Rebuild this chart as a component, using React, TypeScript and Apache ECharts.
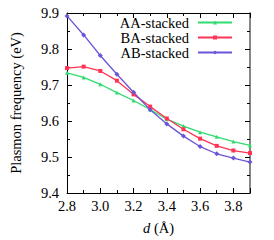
import React, { useEffect, useRef } from "react";
import * as echarts from "echarts";

const dValues = [2.8, 2.9, 3.0, 3.1, 3.2, 3.3, 3.4, 3.5, 3.6, 3.7, 3.8, 3.9];
const aaStacked = [9.734, 9.721, 9.702, 9.679, 9.657, 9.632, 9.605, 9.586, 9.569, 9.556, 9.543, 9.532];
const baStacked = [9.747, 9.751, 9.739, 9.712, 9.674, 9.640, 9.607, 9.577, 9.551, 9.531, 9.518, 9.511];
const abStacked = [9.892, 9.839, 9.782, 9.730, 9.680, 9.631, 9.592, 9.558, 9.529, 9.509, 9.497, 9.486];
const seriesNames = ["AA-stacked", "BA-stacked", "AB-stacked"];
const xLabel = "d";

const FONT = "'Liberation Serif', 'Times New Roman', Times, serif";
const FS = 14.5;

export default function App() {
  const ref = useRef<HTMLDivElement>(null);
  useEffect(() => {
    document.body.style.margin = "0";
    const chart = echarts.init(ref.current!, null, { renderer: "svg" });
    const pair = (ys: number[]) => dValues.map((x, i) => [x, ys[i]]);
    const mk = (name: string, ys: number[], color: string, symbol: string, size: number) => ({
      name,
      type: "line",
      data: pair(ys),
      symbol,
      symbolSize: size,
      showSymbol: true,
      itemStyle: { color },
      lineStyle: { color, width: 1.3 },
      xAxisIndex: 0,
      yAxisIndex: 0,
    });
    const tickStyle = { color: "#000", width: 1 };
    chart.setOption({
      animation: false,
      backgroundColor: "#fff",
      grid: { left: 57, right: 24, top: 13, bottom: 43 },
      legend: {
        orient: "vertical",
        right: 41,
        top: 15,
        padding: 0,
        align: "right",
        itemWidth: 34,
        itemHeight: 5,
        itemGap: 0,
        textStyle: { fontFamily: FONT, fontSize: FS, color: "#000", padding: [0, 4, 0, 0], lineHeight: 13.4 },
        data: seriesNames,
      },
      xAxis: [
        {
          type: "value",
          min: 2.8,
          max: 3.9,
          interval: 0.2,
          name: `{i|${xLabel}} (Å)`,
          nameLocation: "middle",
          nameGap: 27,
          nameTextStyle: {
            fontFamily: FONT,
            fontSize: FS,
            color: "#000",
            rich: { i: { fontStyle: "italic", fontFamily: FONT, fontSize: FS, color: "#000" } },
          },
          axisLine: { show: true, lineStyle: { color: "#000", width: 1 } },
          axisTick: { inside: true, length: 5, lineStyle: tickStyle },
          minorTick: { show: true, splitNumber: 2, length: 3, lineStyle: tickStyle },
          splitLine: { show: false },
          axisLabel: {
            fontFamily: FONT,
            fontSize: FS,
            color: "#000",
            margin: 5,
            formatter: (v: number) => (Math.abs(v - 3.9) < 1e-6 ? "" : v.toFixed(1)),
          },
        },
        {
          type: "value",
          position: "top",
          min: 2.8,
          max: 3.9,
          interval: 0.2,
          axisLine: { show: true, lineStyle: { color: "#000", width: 1 } },
          axisTick: { inside: true, length: 5, lineStyle: tickStyle },
          minorTick: { show: true, splitNumber: 2, length: 3, lineStyle: tickStyle },
          splitLine: { show: false },
          axisLabel: { show: false },
        },
      ],
      yAxis: [
        {
          type: "value",
          min: 9.4,
          max: 9.9,
          interval: 0.1,
          name: "Plasmon frequency (eV)",
          nameLocation: "middle",
          nameGap: 44,
          nameTextStyle: { fontFamily: FONT, fontSize: FS, color: "#000" },
          axisLine: { show: true, lineStyle: { color: "#000", width: 1 } },
          axisTick: { inside: true, length: 5, lineStyle: tickStyle },
          minorTick: { show: true, splitNumber: 2, length: 3, lineStyle: tickStyle },
          splitLine: { show: false },
          axisLabel: {
            fontFamily: FONT,
            fontSize: FS,
            color: "#000",
            margin: 8,
            formatter: (v: number) => v.toFixed(1),
          },
        },
        {
          type: "value",
          position: "right",
          min: 9.4,
          max: 9.9,
          interval: 0.1,
          axisLine: { show: true, lineStyle: { color: "#888", width: 2 } },
          axisTick: { inside: true, length: 5, lineStyle: tickStyle },
          minorTick: { show: true, splitNumber: 2, length: 3, lineStyle: tickStyle },
          splitLine: { show: false },
          axisLabel: { show: false },
        },
      ],
      series: [
        mk(seriesNames[0], aaStacked, "#2fdc6f", "triangle", 4),
        mk(seriesNames[1], baStacked, "#ff3355", "rect", 4),
        mk(seriesNames[2], abStacked, "#6a55d8", "diamond", 5),
      ],
    });
    return () => chart.dispose();
  }, []);
  return <div ref={ref} style={{ width: 274, height: 240 }} />;
}
